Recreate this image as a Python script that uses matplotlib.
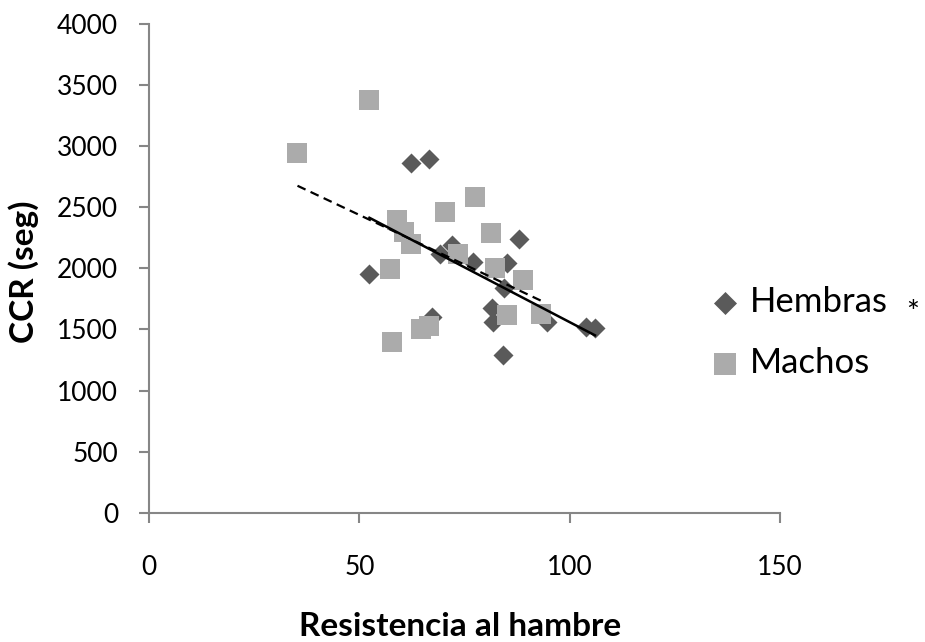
import matplotlib
matplotlib.use("Agg")
import matplotlib.pyplot as plt

# ---- data ----
hembras_x = [52.4, 62.3, 66.6, 69.2, 72.0, 77.1, 87.9, 85.0, 84.5, 81.5, 81.8, 84.2, 67.2, 94.5, 104.0, 106.0]
hembras_y = [1955, 2865, 2897, 2117, 2191, 2054, 2240, 2041, 1837, 1673, 1563, 1291, 1604, 1563, 1522, 1509]

machos_x = [52.4, 35.3, 77.5, 70.4, 58.9, 60.6, 62.3, 57.3, 81.2, 73.4, 82.2, 88.8, 85.0, 93.2, 64.7, 66.6, 57.7]
machos_y = [3378, 2942, 2586, 2464, 2396, 2300, 2199, 1995, 2287, 2117, 2000, 1905, 1618, 1626, 1504, 1531, 1400]

hembras_trend_x = [52.4, 106.0]
hembras_trend_y = [2414, 1452]
machos_trend_x = [35.3, 93.2]
machos_trend_y = [2676, 1735]

x_ticks = [0, 50, 100, 150]
y_ticks = [0, 500, 1000, 1500, 2000, 2500, 3000, 3500, 4000]

plt.rcParams['font.family'] = ['Lato', 'DejaVu Sans']

fig = plt.figure(figsize=(9.25, 6.42), dpi=100)
ax = fig.add_axes([149/925, 1-512.7/642, (780-149)/925, (512.7-24)/642])

ax.scatter(hembras_x, hembras_y, marker='D', s=10.2**2, color='#5A5A5A', linewidths=0, label='Hembras', zorder=2)
ax.scatter(machos_x, machos_y, marker='s', s=13.7**2, color='#ABABAB', linewidths=0, label='Machos', zorder=3)
ax.plot(machos_trend_x, machos_trend_y, color='black', lw=1.6, linestyle=(0, (4, 2.5)), zorder=4)
ax.plot(hembras_trend_x, hembras_trend_y, color='black', lw=1.8, zorder=5)

ax.set_xlim(0, 150)
ax.set_ylim(0, 4000)
ax.set_xticks(x_ticks)
ax.set_yticks(y_ticks)
ax.set_xticklabels([str(v) for v in x_ticks])
ax.set_yticklabels([str(v) for v in y_ticks])

for s in ['top', 'right']:
    ax.spines[s].set_visible(False)
for s in ['left', 'bottom']:
    ax.spines[s].set_color('#868686')
    ax.spines[s].set_linewidth(1.5)
ax.tick_params(axis='both', direction='out', length=7.2, width=1.5, color='#868686', labelsize=19, labelcolor='black')
ax.tick_params(axis='y', pad=15)
ax.tick_params(axis='x', pad=23)

ax.set_xlabel('Resistencia al hambre', fontsize=24, fontweight='bold', va='center')
ax.xaxis.set_label_coords(0.493, (512.7-626)/488.7)
ax.set_ylabel('CCR (seg)', fontsize=24, fontweight='bold', va='center')
ax.yaxis.set_label_coords((24-149)/631, (512.7-272)/488.7)

leg = ax.legend(loc='center left', bbox_to_anchor=(708/925, 1-332.5/642), bbox_transform=fig.transFigure,
                frameon=False, fontsize=25, handletextpad=0.2, labelspacing=0.85, handlelength=1.0,
                borderpad=0, borderaxespad=0, markerscale=1.15)

fig.text(913/925, 1-313/642, '*', ha='center', va='center', fontsize=22)

fig.savefig('out.png', dpi=100)
